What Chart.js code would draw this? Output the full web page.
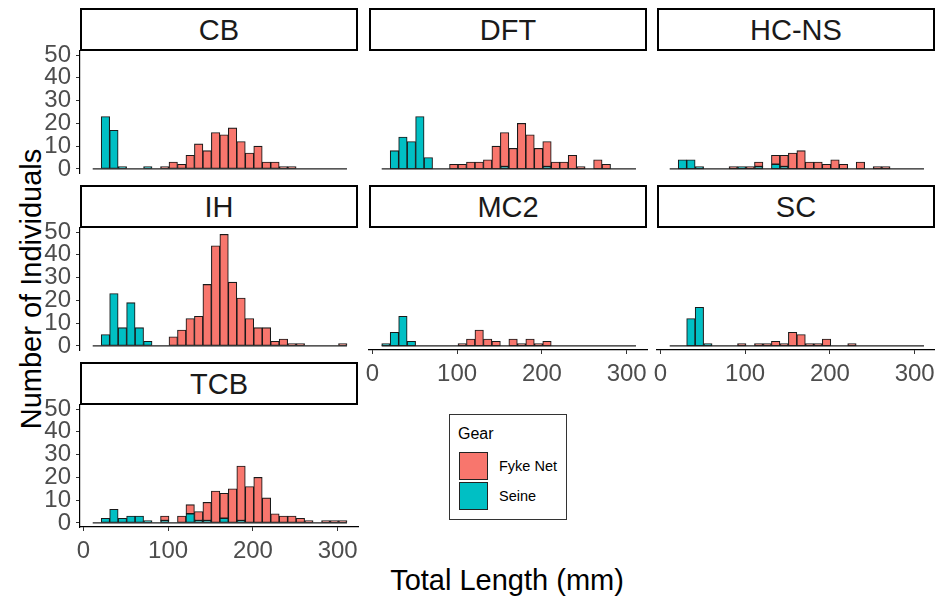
<!DOCTYPE html>
<html>
<head>
<meta charset="utf-8">
<script src="https://cdn.jsdelivr.net/npm/chart.js@4.4.1/dist/chart.umd.min.js"></script>
<style>
    body { margin: 0; background: #fff; font-family: "Liberation Sans", Arial, sans-serif; }
    #wrap { position: relative; width: 935px; height: 599px; overflow: hidden; }
    #wrap canvas { position: absolute; }
    .strip {
        position: absolute; box-sizing: border-box; border: 2px solid #000; background: #fff;
        text-align: center; font-size: 29px; color: #1a1a1a; padding-top: 1px;
    }
    .axis-title { position: absolute; font-size: 29px; color: #000; white-space: nowrap; }
    #ytitle { left: 31px; top: 289px; transform: translate(-50%, -50%) rotate(-90deg); }
    #xtitle { left: 507px; top: 580px; transform: translate(-50%, -50%); }
    #legend {
        position: absolute; left: 449px; top: 414px; width: 118px; height: 106px;
        box-sizing: border-box; border: 1px solid #333; background: #fff;
    }
    #legend .title { position: absolute; left: 8px; top: 10px; font-size: 16px; color: #000; }
    #legend .key { position: absolute; left: 9px; width: 29px; height: 28px; box-sizing: border-box; border: 1px solid #222; }
    #legend .lab { position: absolute; left: 49px; font-size: 14.5px; color: #000; line-height: 28px; }
</style>
</head>
<body>
<div id="wrap">
    <div id="ytitle" class="axis-title">Number of Individuals</div>
    <div id="xtitle" class="axis-title">Total Length (mm)</div>
    <div id="legend">
        <div class="title">Gear</div>
        <div class="key" style="top:37px;background:#F8766D"></div>
        <div class="lab" style="top:37px">Fyke Net</div>
        <div class="key" style="top:67px;background:#00BFC4"></div>
        <div class="lab" style="top:67px">Seine</div>
    </div>
</div>
<script>
document.addEventListener('DOMContentLoaded', function() {
    // histogram bins (centre of each 10 mm bin) and axis ticks
    const binCenters = [16, 26, 36, 46, 56, 66, 76, 86, 96, 106, 116, 126, 136, 146, 156,
                        166, 176, 186, 196, 206, 216, 226, 236, 246, 256, 266, 276, 286, 296, 306];
    const xTicks = [0, 100, 200, 300];
    const yTicks = [0, 10, 20, 30, 40, 50];

    const panelNames = ['CB', 'DFT', 'HC-NS', 'IH', 'MC2', 'SC', 'TCB'];

    // counts per bin
    const seineCB   = [0, 23, 17, 1, 0, 0, 1, 0, 0, 0, 0, 0, 0, 0, 0, 0, 0, 0, 0, 0, 0, 0, 0, 0, 0, 0, 0, 0, 0, 0];
    const fykeCB    = [0, 0, 0, 0, 0, 0, 0, 0, 1, 3, 2, 6, 11, 8, 16, 15, 18, 12, 7, 10, 3, 3, 1, 1, 0, 0, 0, 0, 0, 0];
    const seineDFT  = [0, 8, 14, 12, 23, 5, 0, 0, 0, 0, 0, 0, 0, 0, 1, 0, 0, 0, 0, 1, 0, 0, 0, 0, 0, 0, 0, 0, 0, 0];
    const fykeDFT   = [0, 0, 0, 0, 0, 0, 0, 0, 2, 2, 3, 3, 4, 10, 15, 9, 20, 15, 9, 11, 3, 3, 6, 1, 0, 4, 2, 0, 0, 0];
    const seineHCNS = [0, 4, 4, 1, 0, 0, 0, 0, 1, 0, 1, 0, 2, 1, 0, 0, 0, 0, 0, 0, 0, 0, 0, 0, 0, 0, 0, 0, 0, 0];
    const fykeHCNS  = [0, 0, 0, 0, 0, 0, 0, 1, 0, 1, 2, 0, 4, 5, 7, 8, 3, 3, 2, 4, 2, 0, 3, 0, 1, 1, 0, 0, 0, 0];
    const seineIH   = [0, 5, 23, 8, 19, 8, 2, 0, 0, 0, 0, 0, 0, 0, 0, 0, 0, 0, 0, 0, 0, 0, 0, 0, 0, 0, 0, 0, 0, 0];
    const fykeIH    = [0, 0, 0, 0, 0, 0, 0, 0, 0, 4, 7, 12, 13, 27, 44, 49, 28, 21, 12, 8, 8, 2, 3, 1, 1, 0, 0, 0, 0, 1];
    const seineMC2  = [1, 6, 13, 2, 0, 0, 0, 0, 0, 0, 0, 0, 0, 0, 0, 0, 0, 0, 0, 0, 0, 0, 0, 0, 0, 0, 0, 0, 0, 0];
    const fykeMC2   = [0, 0, 0, 0, 0, 0, 0, 0, 0, 1, 3, 7, 3, 2, 0, 3, 1, 3, 1, 2, 0, 0, 0, 0, 0, 0, 0, 0, 0, 0];
    const seineSC   = [0, 0, 12, 17, 1, 0, 0, 0, 0, 0, 0, 0, 0, 0, 0, 0, 0, 0, 0, 0, 0, 0, 0, 0, 0, 0, 0, 0, 0, 0];
    const fykeSC    = [0, 0, 0, 0, 0, 0, 0, 0, 1, 0, 1, 1, 2, 1, 6, 5, 1, 1, 3, 0, 0, 1, 0, 0, 0, 0, 0, 0, 0, 0];
    const seineTCB  = [0, 2, 6, 2, 3, 3, 1, 0, 1, 0, 0, 4, 1, 1, 0, 2, 0, 1, 0, 0, 0, 0, 0, 0, 0, 0, 0, 0, 0, 0];
    const fykeTCB   = [0, 0, 0, 0, 0, 0, 0, 0, 2, 0, 3, 4, 4, 8, 14, 11, 15, 24, 16, 20, 11, 4, 3, 3, 2, 1, 0, 1, 1, 1];

    const seineData = [seineCB, seineDFT, seineHCNS, seineIH, seineMC2, seineSC, seineTCB];
    const fykeData = [fykeCB, fykeDFT, fykeHCNS, fykeIH, fykeMC2, fykeSC, fykeTCB];

    // facet layout
    const colLeft = [80, 369, 657];
    const rowTop = [51, 228, 405];
    const panelW = 278;
    const panelH = 122;
    const stripH = 43;
    const PAD = 12;
    const YAXIS_W = 80;
    const XAXIS_H = 50;

    Chart.defaults.font.family = "'Liberation Sans', Arial, sans-serif";

    // ggplot draws empty bins as flat outlines, so draw the zero line across all bins
    const baselinePlugin = {
        id: 'baseline',
        afterDatasetsDraw(chart) {
            const { ctx, scales: { x, y } } = chart;
            const half = (binCenters[1] - binCenters[0]) / 2;
            const y0 = y.getPixelForValue(0);
            ctx.save();
            ctx.strokeStyle = '#1f1f1f';
            ctx.lineWidth = 1.2;
            ctx.beginPath();
            ctx.moveTo(x.getPixelForValue(binCenters[0] - half), y0);
            ctx.lineTo(x.getPixelForValue(binCenters[binCenters.length - 1] + half), y0);
            ctx.stroke();
            ctx.restore();
        }
    };

    const wrap = document.getElementById('wrap');

    panelNames.forEach((name, i) => {
        const col = i % 3;
        const row = Math.floor(i / 3);
        const showY = col === 0;
        const showX = i >= 4;
        const axisW = showY ? YAXIS_W : 0;
        const axisH = showX ? XAXIS_H : 0;

        const canvas = document.createElement('canvas');
        const w = panelW + 2 * PAD + axisW;
        const h = panelH + 2 * PAD + axisH;
        canvas.width = w;
        canvas.height = h;
        canvas.style.width = w + 'px';
        canvas.style.height = h + 'px';
        canvas.style.left = (colLeft[col] - PAD - axisW) + 'px';
        canvas.style.top = (rowTop[row] - PAD) + 'px';
        wrap.appendChild(canvas);

        new Chart(canvas, {
            type: 'bar',
            data: {
                datasets: [{
                    label: 'Seine',
                    data: binCenters.map((x, k) => ({ x: x, y: seineData[i][k] })),
                    backgroundColor: '#00BFC4'
                }, {
                    label: 'Fyke Net',
                    data: binCenters.map((x, k) => ({ x: x, y: fykeData[i][k] })),
                    backgroundColor: '#F8766D'
                }]
            },
            options: {
                responsive: false,
                animation: false,
                layout: { padding: PAD },
                plugins: { legend: { display: false }, tooltip: { enabled: false } },
                datasets: {
                    bar: {
                        barPercentage: 1,
                        categoryPercentage: 1,
                        borderWidth: 1.1,
                        borderColor: '#1a1a1a',
                        borderSkipped: false
                    }
                },
                scales: {
                    x: {
                        type: 'linear',
                        min: -4,
                        max: 324,
                        offset: false,
                        stacked: true,
                        display: showX,
                        afterBuildTicks: s => { s.ticks = xTicks.map(v => ({ value: v })); },
                        afterFit: s => { s.height = axisH; s.paddingLeft = 0; s.paddingRight = 0; },
                        ticks: { color: '#4d4d4d', font: { size: 24 }, padding: 6, maxRotation: 0, autoSkip: false },
                        grid: { offset: false, drawOnChartArea: false, drawTicks: true, tickLength: 4, color: '#333' },
                        border: { display: true, color: '#000', width: 1.2 }
                    },
                    y: {
                        min: -1.8,
                        max: 51.8,
                        stacked: true,
                        display: showY,
                        afterBuildTicks: s => { s.ticks = yTicks.map(v => ({ value: v })); },
                        afterFit: s => { s.width = axisW; s.paddingTop = 0; s.paddingBottom = 0; },
                        ticks: { color: '#4d4d4d', font: { size: 24 }, padding: 5, autoSkip: false },
                        grid: { drawOnChartArea: false, drawTicks: true, tickLength: 4, color: '#333' },
                        border: { display: true, color: '#000', width: 1.2 }
                    }
                }
            },
            plugins: [baselinePlugin]
        });

        // facet strip label
        const strip = document.createElement('div');
        strip.className = 'strip';
        strip.textContent = name;
        strip.style.left = colLeft[col] + 'px';
        strip.style.top = (rowTop[row] - stripH) + 'px';
        strip.style.width = panelW + 'px';
        strip.style.height = stripH + 'px';
        strip.style.lineHeight = (stripH - 5) + 'px';
        wrap.appendChild(strip);
    });
});
</script>
</body>
</html>
